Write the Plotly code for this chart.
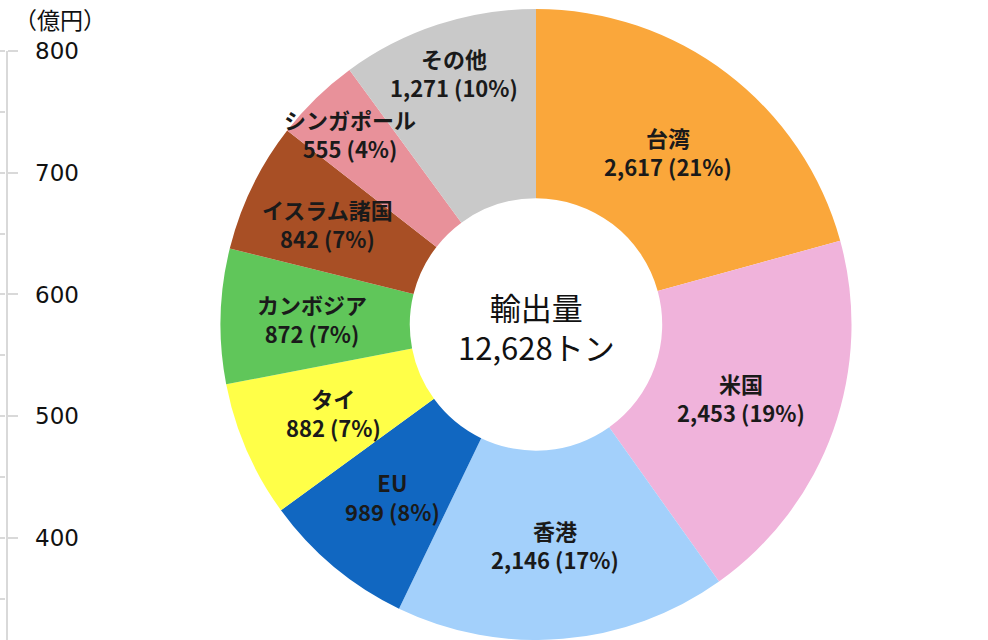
import math
import plotly.graph_objects as go

# ---- data ----
regions = ["台湾", "米国", "香港", "EU", "タイ", "カンボジア", "イスラム諸国", "シンガポール", "その他"]
export_tons = [2617, 2453, 2146, 989, 882, 872, 842, 555, 1271]
total_label = 12628
center_title = "輸出量"
axis_unit = "（億円）"
axis_ticks = [400, 500, 600, 700, 800]

# ---- styles ----
colors = ["#FAA73B", "#F0B3DB", "#A3D0FB", "#1167C1", "#FFFF48",
          "#60C65A", "#A84F25", "#E8919A", "#C9C9C9"]
label_radius = [0.69, 0.69, 0.70, 0.71, 0.70, 0.71, 0.735, 0.845, 0.84]

W, H = 988, 640
dom_x = [219 / W, 853 / W]
dom_y = [0.0, 0.986]

fig = go.Figure()

fig.add_trace(go.Pie(
    labels=regions, values=export_tons, sort=False, direction="clockwise",
    rotation=0, hole=0.40, textinfo="none", hoverinfo="label+value+percent",
    marker=dict(colors=colors, line=dict(width=0)),
    domain=dict(x=dom_x, y=dom_y), showlegend=False,
))

# invisible traces so the cartesian axes are drawn
fig.add_trace(go.Scatter(x=[0.5], y=[600], mode="markers", marker=dict(opacity=0),
                         showlegend=False, hoverinfo="skip", xaxis="x", yaxis="y"))
fig.add_trace(go.Scatter(x=[0.5], y=[600], mode="markers", marker=dict(opacity=0),
                         showlegend=False, hoverinfo="skip", xaxis="x2", yaxis="y2"))

# label annotations computed from the data
dom_w = (dom_x[1] - dom_x[0]) * W
dom_h = (dom_y[1] - dom_y[0]) * H
r_px = min(dom_w, dom_h) / 2
cx = (dom_x[0] + dom_x[1]) / 2 * W
cy_top = H - (dom_y[0] + dom_y[1]) / 2 * H
tot = sum(export_tons)
annotations = []
cum = 0
for name, v, rf in zip(regions, export_tons, label_radius):
    theta = 2 * math.pi * (cum + v / 2) / tot
    cum += v
    px = cx + rf * r_px * math.sin(theta)
    py = cy_top - rf * r_px * math.cos(theta)
    pct = round(v / total_label * 100)
    annotations.append(dict(
        x=px / W, y=1 - py / H, xref="paper", yref="paper",
        text=f"<b>{name}<br>{v:,} ({pct}%)</b>", showarrow=False,
        font=dict(family="Noto Sans CJK JP", size=22, color="#1a1a1a"),
        xanchor="center", yanchor="middle",
    ))

annotations.append(dict(
    x=cx / W, y=1 - cy_top / H, xref="paper", yref="paper",
    text=f"{center_title}<br>{total_label:,}トン", showarrow=False,
    font=dict(family="Noto Sans CJK JP", size=31, color="#111111"),
    xanchor="center", yanchor="middle", yshift=-2,
))
annotations.append(dict(
    x=60 / W, y=1 - 19 / H, xref="paper", yref="paper", text=axis_unit,
    showarrow=False, font=dict(family="Noto Sans CJK JP", size=23, color="#111111"),
    xanchor="center", yanchor="middle",
))

y_range = [316.2, 800]
axis_x = 5.5 / W
y_dom = [0, (H - 51) / H]
fig.update_layout(
    width=W, height=H, margin=dict(l=0, r=0, t=0, b=0, autoexpand=False),
    paper_bgcolor="white", plot_bgcolor="rgba(0,0,0,0)",
    xaxis=dict(domain=[axis_x, 0.2], range=[0, 1], visible=False, fixedrange=True),
    xaxis2=dict(domain=[0, axis_x], range=[0, 1], visible=False, fixedrange=True,
                anchor="y2"),
    yaxis=dict(domain=y_dom, range=y_range, anchor="x", side="left",
               tick0=0, dtick=50, ticks="outside", ticklen=5, tickwidth=2,
               tickcolor="#D9D9D9", showticklabels=False, showline=False,
               showgrid=False, zeroline=False, fixedrange=True),
    yaxis2=dict(domain=y_dom, range=y_range, anchor="x2", side="right",
                tickvals=axis_ticks, ticktext=[str(t) for t in axis_ticks],
                ticks="outside", ticklen=10, tickwidth=2, tickcolor="#D9D9D9",
                showline=True, linecolor="#D9D9D9", linewidth=2,
                showgrid=False, zeroline=False, ticklabelstandoff=13, fixedrange=True,
                tickfont=dict(family="DejaVu Sans", size=23, color="#111111")),
    annotations=annotations,
)

fig.write_html(
    "out.html",
    config={"displayModeBar": False},
    post_script="document.body.style.margin='0';document.body.style.overflow='hidden';",
)
